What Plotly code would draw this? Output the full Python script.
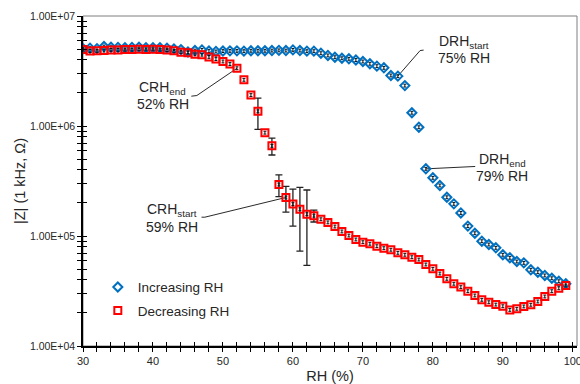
import numpy as np
import plotly.graph_objects as go

# Relative humidity set points (%)
rh = list(range(30, 100))

# |Z| at 1 kHz (ohm) while humidity is stepped up
z_increasing = [
    5.05e6, 5.10e6, 5.05e6, 5.28e6, 5.20e6, 5.18e6, 5.15e6, 5.18e6, 5.20e6, 5.15e6,
    5.15e6, 5.15e6, 5.10e6, 5.02e6, 4.95e6, 4.70e6, 4.85e6, 4.92e6, 4.80e6, 4.76e6,
    4.80e6, 4.82e6, 4.82e6, 4.79e6, 4.83e6, 4.83e6, 4.83e6, 4.85e6, 4.87e6, 4.85e6,
    4.92e6, 4.85e6, 4.79e6, 4.79e6, 4.59e6, 4.38e6, 4.22e6, 4.13e6, 4.08e6, 3.98e6,
    3.86e6, 3.68e6, 3.50e6, 3.38e6, 2.88e6, 2.84e6, 2.33e6, 1.32e6, 9.75e5, 4.08e5,
    3.38e5, 2.88e5, 2.25e5, 1.96e5, 1.62e5, 1.23e5, 1.06e5, 8.97e4, 8.37e4, 7.81e4,
    6.75e4, 6.34e4, 5.86e4, 5.70e4, 4.93e4, 4.69e4, 4.38e4, 4.13e4, 3.88e4, 3.68e4,
]

# |Z| at 1 kHz (ohm) while humidity is stepped down
z_decreasing = [
    4.95e6, 4.80e6, 4.82e6, 4.85e6, 4.92e6, 4.92e6, 4.95e6, 4.95e6, 4.98e6, 4.97e6,
    4.98e6, 4.95e6, 4.90e6, 4.82e6, 4.69e6, 4.63e6, 4.48e6, 4.45e6, 4.25e6, 4.06e6,
    3.86e6, 3.66e6, 3.35e6, 2.63e6, 1.91e6, 1.36e6, 8.70e5, 6.60e5, 2.94e5, 2.24e5,
    1.95e5, 1.75e5, 1.58e5, 1.53e5, 1.42e5, 1.33e5, 1.22e5, 1.10e5, 1.01e5, 9.30e4,
    8.79e4, 8.50e4, 8.08e4, 7.75e4, 7.50e4, 7.03e4, 6.75e4, 6.42e4, 6.11e4, 5.51e4,
    5.03e4, 4.56e4, 4.08e4, 3.68e4, 3.43e4, 3.15e4, 2.88e4, 2.63e4, 2.50e4, 2.38e4,
    2.30e4, 2.13e4, 2.18e4, 2.29e4, 2.37e4, 2.54e4, 2.82e4, 3.15e4, 3.35e4, 3.55e4,
]

# Larger scatter (standard deviation, ohm) across the condensation step
err_rh = [55, 57, 58, 59, 60, 61, 62, 63]
err_size = [4.3e5, 1.15e5, 6.6e4, 5.9e4, 7.2e4, 1.02e5, 1.04e5, 1.9e4]

y_tickvals = [1e4, 1e5, 1e6, 1e7]
y_ticktext = ["1.00E+04", "1.00E+05", "1.00E+06", "1.00E+07"]

# Callouts: label, subscript, second line, RH of the marked point, series,
# label centre (x, log10 y of each line), leader bend points (x, log10 y)
callouts = [
    ("CRH", "end", "52% RH", 52, "dec", 41.4, 6.342, 6.202, [(46.27, 6.277), (45.48, 6.271)]),
    ("DRH", "start", "75% RH", 75, "inc", 84.4, 6.765, 6.618, [(78.18, 6.686), (78.68, 6.69)]),
    ("DRH", "end", "79% RH", 79, "inc", 89.9, 5.695, 5.547, [(86.05, 5.632)]),
    ("CRH", "start", "59% RH", 59, "dec", 42.7, 5.238, 5.085, [(47.41, 5.171), (46.94, 5.171)]),
]

FONT = "Liberation Sans, Arial, sans-serif"
TEXT = "#262626"
BLUE = "#0070C0"
RED = "#FF0000"

X_RANGE = [30, 100.6]

series = {"inc": z_increasing, "dec": z_decreasing}

fig = go.Figure()

# Leader lines from each callout point to its label
for name, sub, line2, r_pt, key, tx, ty1, ty2, bends in callouts:
    xs = [r_pt] + [b[0] for b in bends]
    ys = [series[key][rh.index(r_pt)]] + [10 ** b[1] for b in bends]
    fig.add_trace(go.Scatter(x=xs, y=ys, mode="lines", line=dict(color="#111111", width=0.9),
                             showlegend=False, hoverinfo="skip"))

z_err_y = [z_decreasing[rh.index(r)] for r in err_rh]
fig.add_trace(go.Scatter(
    x=err_rh, y=z_err_y, mode="markers",
    marker=dict(size=1, color="rgba(0,0,0,0)"),
    error_y=dict(type="data", array=err_size, color="#222222", thickness=1.3, width=3.5),
    showlegend=False, hoverinfo="skip",
))

fig.add_trace(go.Scatter(
    x=rh, y=z_increasing, mode="markers", name="Increasing RH", legendgroup="inc",
    marker=dict(symbol="diamond-open", size=7, color=BLUE, line=dict(width=2, color=BLUE)),
    error_y=dict(type="percent", value=3, color="#111111", thickness=1, width=1.5),
))
fig.add_trace(go.Scatter(
    x=rh, y=z_decreasing, mode="markers", name="Decreasing RH", legendgroup="dec",
    marker=dict(symbol="square-open", size=7, color=RED, line=dict(width=2, color=RED)),
    error_y=dict(type="percent", value=3, color="#111111", thickness=1, width=1.5),
))

# Empty trace that carries the overlaid axes used for the inner halves of the tick marks
fig.add_trace(go.Scatter(x=[], y=[], xaxis="x2", yaxis="y2", showlegend=False))

annotations = []
for name, sub, line2, r_pt, key, tx, ty1, ty2, bends in callouts:
    annotations.append(dict(
        x=tx, y=ty1, xref="x", yref="y", showarrow=False,
        text=f"{name}<sub>{sub}</sub>", font=dict(size=14, color=TEXT, family=FONT),
        xanchor="center", yanchor="middle",
    ))
    annotations.append(dict(
        x=tx, y=ty2, xref="x", yref="y", showarrow=False,
        text=line2, font=dict(size=14, color=TEXT, family=FONT),
        xanchor="center", yanchor="middle",
    ))

minor_y = [m * 10 ** e for e in (4, 5, 6) for m in range(2, 10)]

axis_common = dict(showgrid=False, zeroline=False, linecolor="black", linewidth=1.5,
                   tickcolor="black", tickwidth=1.2, ticklen=4, automargin=False)

fig.update_layout(
    width=580, height=384,
    margin=dict(l=83, r=3, t=16, b=38),
    paper_bgcolor="white", plot_bgcolor="white",
    font=dict(family=FONT, color=TEXT),
    showlegend=True,
    legend=dict(x=0.03, y=0.225, xanchor="left", yanchor="top",
                font=dict(size=13.5, family=FONT, color=TEXT),
                bgcolor="rgba(0,0,0,0)", tracegroupgap=3),
    xaxis=dict(**axis_common, range=X_RANGE, tickmode="linear", tick0=30, dtick=10,
               ticks="outside", showline=True, ticklabeloverflow="allow",
               minor=dict(dtick=2, ticks="outside", ticklen=4, tickcolor="black", tickwidth=1.2),
               tickfont=dict(size=11, family=FONT, color=TEXT),
               title=dict(text="RH (%)", font=dict(size=14.5, family=FONT, color=TEXT), standoff=8)),
    yaxis=dict(**axis_common, type="log", range=[4, 7], tickmode="array",
               tickvals=y_tickvals, ticktext=y_ticktext, ticks="outside", showline=True,
               ticklabeloverflow="allow",
               minor=dict(tickmode="array", tickvals=minor_y, ticks="outside", ticklen=4,
                          tickcolor="black", tickwidth=1.2),
               tickfont=dict(size=10.5, family=FONT, color=TEXT),
               title=dict(text="|Z| (1 kHz, \u03a9)", font=dict(size=14.5, family=FONT, color=TEXT),
                          standoff=1)),
    xaxis2=dict(**axis_common, overlaying="x", matches="x", anchor="y2", side="bottom",
                range=X_RANGE, tickmode="linear", tick0=30, dtick=10, ticks="inside",
                showticklabels=False, showline=False,
                minor=dict(dtick=2, ticks="inside", ticklen=4, tickcolor="black", tickwidth=1.2)),
    yaxis2=dict(**axis_common, overlaying="y", anchor="x2", side="left", type="log",
                range=[4, 7], tickmode="array", tickvals=y_tickvals, ticks="inside",
                showticklabels=False, showline=False,
                minor=dict(tickmode="array", tickvals=minor_y, ticks="inside", ticklen=4,
                           tickcolor="black", tickwidth=1.2)),
    annotations=annotations,
    shapes=[dict(type="rect", xref="paper", yref="paper", x0=0, x1=1, y0=0, y1=1,
                 line=dict(color="#7f7f7f", width=1), layer="below")],
)

fig.write_html("out.html")
